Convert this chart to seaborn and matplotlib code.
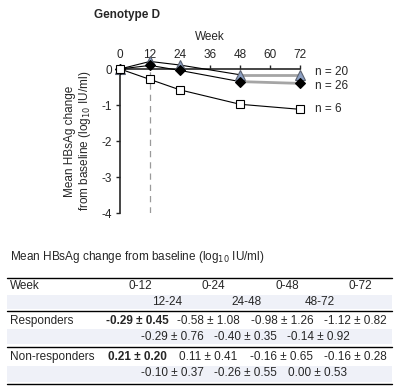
import seaborn as sns
import matplotlib.pyplot as plt
import pandas as pd
from matplotlib.lines import Line2D
from matplotlib.patches import Rectangle

# data
weeks = [0, 12, 24, 48, 72]
non_responders = [0, 0.21, 0.11, -0.16, -0.16]   # triangles, n = 20
all_patients = [0, 0.10, -0.04, -0.35, -0.40]    # diamonds, n = 26
responders = [0, -0.29, -0.58, -0.98, -1.12]     # squares, n = 6
group_labels = ["n = 20", "n = 26", "n = 6"]

# table values
table_cols = ["0-12", "0-24", "0-48", "0-72"]
table_cols2 = ["12-24", "24-48", "48-72"]
row_names = ["Responders", "Non-responders"]
resp_main = ["-0.29 \u00b1 0.45", "-0.58 \u00b1 1.08", "-0.98 \u00b1 1.26", "-1.12 \u00b1 0.82"]
resp_sub = ["-0.29 \u00b1 0.76", "-0.40 \u00b1 0.35", "-0.14 \u00b1 0.92"]
nonresp_main = ["0.21 \u00b1 0.20", "0.11 \u00b1 0.41", "-0.16 \u00b1 0.65", "-0.16 \u00b1 0.28"]
nonresp_sub = ["-0.10 \u00b1 0.37", "-0.26 \u00b1 0.55", "0.00 \u00b1 0.53"]

sns.set_style("ticks")
plt.rcParams['font.family'] = ['Liberation Sans', 'DejaVu Sans']
plt.rcParams['font.size'] = 8.5

W, H = 398, 391
fig = plt.figure(figsize=(W / 100, H / 100), dpi=100)
ax = fig.add_axes([120 / W, 1 - 213 / H, 180 / W, 144 / H])

df = pd.DataFrame({"week": weeks * 3,
                   "change": non_responders + all_patients + responders,
                   "group": [group_labels[0]] * 5 + [group_labels[1]] * 5 + [group_labels[2]] * 5})

ax.axvline(12, ymin=0, ymax=1, color="#9a9a9a", lw=0.9, ls=(0, (5, 4)), zorder=0)

styles = {
    "n = 20": dict(marker="^", mfc="#8c9fc2", mec="#5a6170", ms=6.5),
    "n = 26": dict(marker="D", mfc="black", mec="black", ms=5),
    "n = 6": dict(marker="s", mfc="white", mec="black", ms=5.5),
}
label_dy = {"n = 20": 0.09, "n = 26": -0.06, "n = 6": 0.0}
for g in group_labels:
    sub = df[df["group"] == g]
    x = sub["week"].tolist()
    y = sub["change"].tolist()
    if g != "n = 6":
        sns.lineplot(x=x[:4], y=y[:4], ax=ax, color="black", lw=0.8, clip_on=False, zorder=3)
        sns.lineplot(x=x[3:], y=y[3:], ax=ax, color="#a5a5a5", lw=2, clip_on=False, zorder=2)
    else:
        sns.lineplot(x=x, y=y, ax=ax, color="black", lw=0.8, clip_on=False, zorder=3)
    ax.plot(x, y, ls="none", clip_on=False, zorder=4, mew=0.8, **styles[g])
    ax.text(78, y[-1] + label_dy[g], g, va="center", ha="left")

ax.set_xlim(0, 72)
ax.set_ylim(-4, 0)
ax.set_xticks([0, 12, 24, 36, 48, 60, 72])
ax.set_yticks([0, -1, -2, -3, -4])
ax.set_yticklabels(["0", "-1", "-2", "-3", "-4"])
ax.xaxis.tick_top()
ax.xaxis.set_label_position("top")
ax.set_xlabel("Week", labelpad=6)
ax.set_ylabel("Mean HBsAg change\nfrom baseline (log$_{10}$ IU/ml)", linespacing=1.05)
ax.yaxis.set_label_coords(-0.15, 0.5)
for s in ["bottom", "right"]:
    ax.spines[s].set_visible(False)
for s in ["top", "left"]:
    ax.spines[s].set_linewidth(1.2)
ax.tick_params(length=3, width=1, pad=3)
ax.patch.set_alpha(0)

fig.text(94 / W, 1 - 15 / H, "Genotype D", fontweight="bold", va="center", ha="left")

# table
def fy(py):
    return 1 - py / H

def fx(px):
    return px / W

fig.text(fx(10), fy(257), "Mean HBsAg change from baseline (log$_{10}$ IU/ml)", va="center", ha="left")

for top, bot in [(295, 309), (329, 344), (366, 382)]:
    fig.patches.append(Rectangle((fx(7), fy(bot)), fx(392) - fx(7), fy(top) - fy(bot),
                                 transform=fig.transFigure, color="#eff1f8", lw=0, zorder=0))
for py in [278, 311, 347, 384]:
    fig.lines.append(Line2D([fx(7), fx(392)], [fy(py), fy(py)], transform=fig.transFigure,
                            color="black", lw=1))

main_x = [140, 213, 287, 360]
sub_x = [167, 247, 320]
fig.text(fx(10), fy(286), "Week", va="center", ha="left")
for c, px in zip(table_cols, main_x):
    fig.text(fx(px), fy(286), c, va="center", ha="center")
for c, px in zip(table_cols2, sub_x):
    fig.text(fx(px), fy(302), c, va="center", ha="center")

val_x = [137, 208, 282, 355]
sub_val_x = [172, 245, 318]
for name, main, sub, py in [(row_names[0], resp_main, resp_sub, 321),
                            (row_names[1], nonresp_main, nonresp_sub, 357)]:
    fig.text(fx(10), fy(py), name, va="center", ha="left")
    for i, (v, px) in enumerate(zip(main, val_x)):
        fig.text(fx(px), fy(py), v, va="center", ha="center",
                 fontweight="bold" if i == 0 else "normal")
    for v, px in zip(sub, sub_val_x):
        fig.text(fx(px), fy(py + 16), v, va="center", ha="center")

fig.savefig("out.png", dpi=100)
